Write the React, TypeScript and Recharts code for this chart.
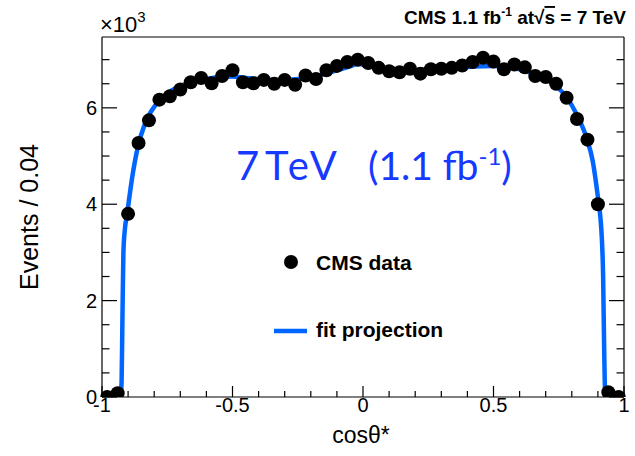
import React from 'react';
import { ComposedChart, XAxis, YAxis, Line, Scatter, Legend } from 'recharts';

// cos(theta*) bin centres (bin width 0.04)
const binCenters = [-0.98, -0.94, -0.9, -0.86, -0.82, -0.78, -0.74, -0.7, -0.66, -0.62, -0.58, -0.54, -0.5, -0.46, -0.42, -0.38, -0.34, -0.3, -0.26, -0.22, -0.18, -0.14, -0.1, -0.06, -0.02, 0.02, 0.06, 0.1, 0.14, 0.18, 0.22, 0.26, 0.3, 0.34, 0.38, 0.42, 0.46, 0.5, 0.54, 0.58, 0.62, 0.66, 0.7, 0.74, 0.78, 0.82, 0.86, 0.9, 0.94, 0.98];
// CMS data, events in units of 10^3
const cmsEvents = [0.0, 0.08, 3.8, 5.27, 5.74, 6.17, 6.24, 6.38, 6.53, 6.62, 6.51, 6.66, 6.78, 6.53, 6.51, 6.58, 6.5, 6.58, 6.48, 6.67, 6.6, 6.78, 6.87, 6.95, 7.0, 6.93, 6.83, 6.76, 6.74, 6.81, 6.71, 6.8, 6.81, 6.83, 6.88, 6.95, 7.04, 6.96, 6.8, 6.9, 6.84, 6.66, 6.64, 6.5, 6.21, 5.77, 5.34, 4.0, 0.1, 0.0];

// fit projection
const fitX = [-1, -0.93, -0.925, -0.922, -0.918, -0.912, -0.905, -0.9, -0.89, -0.88, -0.87, -0.86, -0.84, -0.82, -0.8, -0.78, -0.75, -0.7, -0.65, -0.6, -0.55, -0.5, -0.45, -0.4, -0.35, -0.3, -0.25, -0.2, -0.15, -0.1, -0.05, -0.02, 0, 0.05, 0.1, 0.15, 0.2, 0.3, 0.4, 0.5, 0.55, 0.6, 0.65, 0.7, 0.74, 0.78, 0.82, 0.86, 0.88, 0.9, 0.91, 0.915, 0.92, 0.924, 0.927, 0.93, 1];
const fitY = [0, 0, 0.3, 1.5, 3.0, 3.5, 3.75, 3.95, 4.35, 4.7, 5.0, 5.25, 5.6, 5.85, 6.02, 6.15, 6.3, 6.45, 6.55, 6.6, 6.64, 6.65, 6.62, 6.6, 6.58, 6.58, 6.6, 6.63, 6.7, 6.78, 6.86, 6.91, 6.9, 6.83, 6.77, 6.76, 6.78, 6.81, 6.85, 6.87, 6.85, 6.8, 6.71, 6.6, 6.45, 6.22, 5.85, 5.32, 4.9, 4.15, 3.7, 3.3, 2.5, 1.0, 0.2, 0, 0];

const xTicks = [-1, -0.9, -0.8, -0.7, -0.6, -0.5, -0.4, -0.3, -0.2, -0.1, 0, 0.1, 0.2, 0.3, 0.4, 0.5, 0.6, 0.7, 0.8, 0.9, 1];
const xMajorValues = [-1, -0.5, 0, 0.5, 1];
const xMajorLabels = ['-1', '-0.5', '0', '0.5', '1'];
const yTicks = [0, 0.5, 1, 1.5, 2, 2.5, 3, 3.5, 4, 4.5, 5, 5.5, 6, 6.5, 7];
const yMajorValues = [0, 2, 4, 6];
const yMajorLabels = ['0', '2', '4', '6'];

const dataPoints = binCenters.map((x, i) => ({ x, y: cmsEvents[i] }));
const fitPoints = fitX.map((x, i) => ({ x, y: fitY[i] }));

const FONT = '"Liberation Sans", Arial, Helvetica, sans-serif';
const LINE_BLUE = '#0066ff';
const TEXT_BLUE = '#1638ff';

const findMajor = (vals: number[], v: number) => vals.findIndex((m) => Math.abs(m - v) < 1e-6);

const XTick = (props: any) => {
  const { x, y, payload, side } = props;
  const idx = findMajor(xMajorValues, payload.value);
  const len = idx >= 0 ? 11 : 6;
  const dir = side === 'bottom' ? -1 : 1;
  return (
    <g>
      <line x1={x} y1={y} x2={x} y2={y + dir * len} stroke="#000" strokeWidth={1.2} />
      {side === 'bottom' && idx >= 0 && (
        <text x={x} y={y + 15} textAnchor="middle" fontFamily={FONT} fontSize={20} fill="#000">
          {xMajorLabels[idx]}
        </text>
      )}
    </g>
  );
};

const YTick = (props: any) => {
  const { x, y, payload, side } = props;
  const idx = findMajor(yMajorValues, payload.value);
  const len = idx >= 0 ? 15 : 7.5;
  const dir = side === 'left' ? 1 : -1;
  return (
    <g>
      <line x1={x} y1={y} x2={x + dir * len} y2={y} stroke="#000" strokeWidth={1.2} />
      {side === 'left' && idx >= 0 && (
        <text x={x - 5} y={y + 7} textAnchor="end" fontFamily={FONT} fontSize={20} fill="#000">
          {yMajorLabels[idx]}
        </text>
      )}
    </g>
  );
};

const LegendBox = () => (
  <svg width={200} height={110} style={{ display: 'block' }}>
    <circle cx={21} cy={12} r={7} fill="#000" />
    <text x={46} y={20} fontFamily={FONT} fontWeight="bold" fontSize={21} fill="#000">CMS data</text>
    <line x1={4} y1={81} x2={37} y2={81} stroke={LINE_BLUE} strokeWidth={4.5} />
    <text x={46} y={87} fontFamily={FONT} fontWeight="bold" fontSize={21} fill="#000">fit projection</text>
  </svg>
);

const axisLineStyle = { stroke: '#000', strokeWidth: 1.2 };

export default function App() {
  return (
    <div style={{ position: 'absolute', left: 0, top: 0, width: 635, height: 456, background: '#fff' }}>
      <ComposedChart width={635} height={456} margin={{ top: 0, right: 0, bottom: 0, left: 0 }}>
        <XAxis
          xAxisId={0}
          dataKey="x"
          type="number"
          domain={[-1, 1]}
          ticks={xTicks}
          interval={0}
          height={59}
          tickSize={0}
          tickMargin={0}
          tickLine={false}
          axisLine={axisLineStyle}
          tick={(p: any) => <XTick {...p} side="bottom" />}
        />
        <XAxis
          xAxisId="top"
          orientation="top"
          dataKey="x"
          type="number"
          domain={[-1, 1]}
          ticks={xTicks}
          interval={0}
          height={37}
          tickSize={0}
          tickMargin={0}
          tickLine={false}
          axisLine={axisLineStyle}
          tick={(p: any) => <XTick {...p} side="top" />}
        />
        <YAxis
          yAxisId={0}
          type="number"
          domain={[0, 7.47]}
          allowDataOverflow
          ticks={yTicks}
          interval={0}
          width={102}
          tickSize={0}
          tickMargin={0}
          tickLine={false}
          axisLine={axisLineStyle}
          tick={(p: any) => <YTick {...p} side="left" />}
        />
        <YAxis
          yAxisId="right"
          orientation="right"
          type="number"
          domain={[0, 7.47]}
          allowDataOverflow
          ticks={yTicks}
          interval={0}
          width={11}
          tickSize={0}
          tickMargin={0}
          tickLine={false}
          axisLine={axisLineStyle}
          tick={(p: any) => <YTick {...p} side="right" />}
        />
        <Line
          data={fitPoints}
          dataKey="y"
          type="monotone"
          stroke={LINE_BLUE}
          strokeWidth={4.5}
          dot={false}
          activeDot={false}
          isAnimationActive={false}
          name="fit projection"
        />
        <Scatter
          data={dataPoints}
          dataKey="y"
          fill="#000"
          isAnimationActive={false}
          name="CMS data"
          shape={(p: any) => <circle cx={p.cx} cy={p.cy} r={7} fill="#000" />}
        />
        <Legend
          layout="horizontal"
          verticalAlign="middle"
          align="center"
          content={() => <LegendBox />}
          wrapperStyle={{ position: 'absolute', left: 270, top: 250, width: 200, height: 110 }}
        />
      </ComposedChart>
      <svg
        width={635}
        height={456}
        style={{ position: 'absolute', left: 0, top: 0, pointerEvents: 'none' }}
      >
        <text x={100} y={32} fontFamily={FONT} fontSize={22} fill="#000">
          ×10<tspan fontSize={15} dy={-10}>3</tspan>
        </text>
        <text x={626} y={24} textAnchor="end" fontFamily={FONT} fontWeight="bold" fontSize={19} fill="#000">
          CMS 1.1 fb<tspan fontSize={12} dy={-8}>-1</tspan>
          <tspan dy={8}> at</tspan>
          <tspan>√</tspan>
          <tspan style={{ textDecoration: 'overline' }}>s</tspan>
          <tspan> = 7 TeV</tspan>
        </text>
        <text x={236} y={180} fontFamily='Lato, "Open Sans", sans-serif' fontSize={40} fill={TEXT_BLUE}>
          7<tspan x={265} letterSpacing={4}>TeV</tspan>
        </text>
        <text x={368} y={180} fontFamily='Lato, "Open Sans", sans-serif' fontSize={39} fill={TEXT_BLUE}>
          (1.1 fb<tspan fontSize={24} dy={-15}>-1</tspan>
          <tspan dy={15}>)</tspan>
        </text>
        <text
          x={38}
          y={217}
          textAnchor="middle"
          transform="rotate(-90 38 217)"
          fontFamily={FONT}
          fontSize={25}
          fill="#000"
        >
          Events / 0.04
        </text>
        <text x={361} y={443} textAnchor="middle" fontFamily={FONT} fontSize={23} fill="#000">
          cosθ*
        </text>
      </svg>
    </div>
  );
}
